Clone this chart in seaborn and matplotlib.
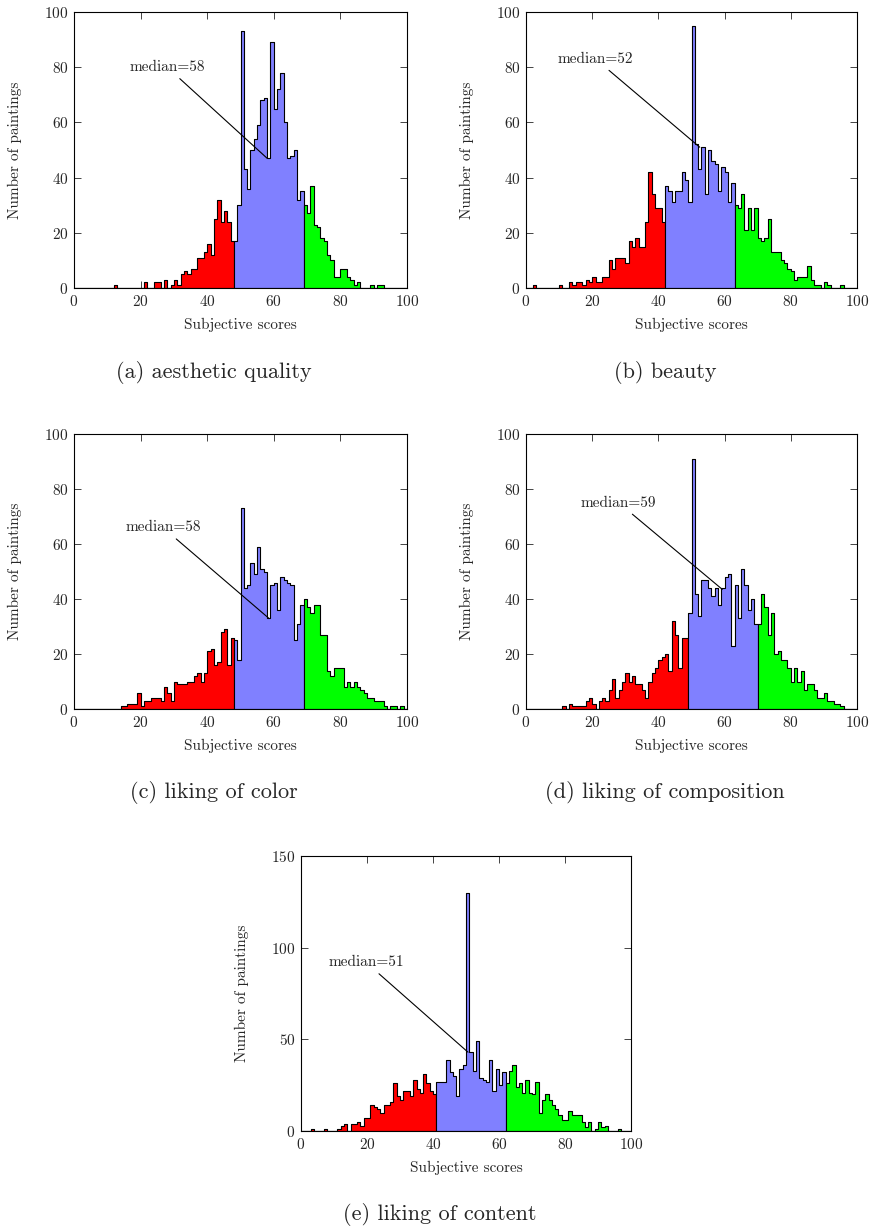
import numpy as np
import pandas as pd
import matplotlib
matplotlib.use("Agg")
import matplotlib.pyplot as plt
import seaborn as sns

# ------------------------------------------------
# counts per score bin (bins 0..99, width 1)
# ------------------------------------------------

aesthetic = ([0] * 12 + [1] + [0] * 8
             + [2, 0, 0, 2, 2, 0, 3, 0, 1, 3, 1, 5, 6, 5, 7, 7, 11, 11, 13, 16, 12, 25, 32, 24, 28, 24, 17]
             + [17, 30, 93, 43, 36, 50, 54, 59, 68, 69, 47, 89, 65, 72, 78, 60, 47, 48, 50, 32, 35]
             + [30, 27, 37, 23, 22, 18, 17, 12, 10, 4, 4, 7, 7, 4, 3, 1, 2, 0, 0, 0,
                1, 0, 1, 1, 0, 0, 0, 0, 0, 0, 0])

beauty = ([0, 0, 1, 0, 0, 0, 0, 0, 0, 0, 1, 0, 0, 2, 1, 2, 2, 1, 3, 2,
           4, 2, 2, 4, 4, 10, 7, 11, 11, 11, 9, 17, 15, 18, 15, 15, 24, 42, 34, 29, 29, 24]
          + [37, 35, 31, 35, 35, 42, 39, 31, 95, 52, 43, 51, 34, 50, 46, 45, 35, 44, 42, 31, 38]
          + [30, 29, 34, 21, 29, 21, 29, 18, 17, 18, 25, 13, 13, 13, 10, 9, 7, 6, 3, 4,
             4, 4, 8, 3, 1, 1, 0, 2, 1, 0, 0, 0, 1, 0, 0, 0, 0])

color = ([0] * 14
         + [1, 1, 2, 2, 2, 6, 1, 3, 3, 4, 4, 4, 3, 8, 6, 3, 10, 9, 9, 9,
            10, 10, 12, 13, 10, 13, 21, 22, 16, 17, 28, 29, 16, 26]
         + [25, 18, 73, 44, 45, 53, 49, 59, 51, 50, 33, 45, 46, 36, 48, 47, 46, 45, 25, 31, 38]
         + [40, 37, 35, 38, 38, 27, 27, 14, 12, 15, 15, 15, 8, 10, 8, 10, 8, 7, 6, 4,
            4, 3, 3, 3, 1, 0, 1, 1, 0, 1, 0])

composition = ([0] * 11
               + [1, 0, 2, 1, 1, 1, 1, 3, 4, 2, 0, 3, 4, 3, 7, 11, 4, 7, 10, 13,
                  10, 12, 9, 9, 7, 4, 10, 13, 15, 18, 19, 20, 14, 32, 27, 15, 26, 26]
               + [35, 91, 42, 34, 47, 47, 44, 41, 44, 38, 44, 48, 49, 23, 45, 33, 51, 45, 36, 40, 31]
               + [31, 42, 37, 27, 35, 20, 21, 18, 18, 15, 10, 15, 10, 14, 7, 9, 9, 7, 4, 4,
                  6, 3, 3, 2, 2, 1, 0, 0, 0, 0])

content = ([0, 0, 0, 1, 0, 0, 0, 1, 0, 0, 0, 1, 3, 4, 0, 4, 4, 5, 3, 7,
            7, 14, 13, 12, 10, 14, 14, 16, 26, 19, 17, 22, 22, 19, 28, 23, 21, 31, 26, 22, 20]
           + [27, 27, 27, 39, 32, 30, 19, 34, 36, 130, 43, 33, 49, 29, 28, 27, 39, 22, 34, 25, 32]
           + [26, 33, 36, 24, 26, 21, 28, 21, 20, 27, 10, 17, 20, 17, 14, 12, 9, 6, 6, 11,
              9, 9, 9, 5, 2, 5, 0, 1, 5, 2, 3, 0, 0, 0, 1, 0, 0, 0])

# where red ends / blue ends
splits = [(48, 69), (42, 63), (48, 69), (49, 70), (41, 62)]
medians = [58, 52, 58, 59, 51]
captions = ["(a) aesthetic quality", "(b) beauty", "(c) liking of color",
            "(d) liking of composition", "(e) liking of content"]

# ------------------------------------------------
# STYLE
# ------------------------------------------------

sns.set_style("ticks")
plt.rcParams['font.family'] = ['cmr10', 'DejaVu Serif']
plt.rcParams['axes.formatter.use_mathtext'] = True
plt.rcParams['mathtext.fontset'] = 'cm'

W, H = 874, 1229
fig = plt.figure(figsize=(W / 100, H / 100), dpi=100)

# axes boxes in pixels: left, top, right, bottom
boxes = [(74, 12, 407, 288), (526, 12, 857, 288),
         (74, 434, 407, 709), (526, 434, 857, 709),
         (301, 856, 631, 1131)]
text_pos = [(28, 80), (21, 83), (26.7, 66), (28, 75), (19.7, 92)]
tip_pos = [(58, 47), (52.5, 51), (58.5, 33), (59.3, 43.5), (50.6, 43)]
cap_pos = [(214, 372), (665, 372), (214, 793), (665, 793), (440, 1215)]

fills = ['#ff0000', '#8080ff', '#00ff00']
all_counts = [aesthetic, beauty, color, composition, content]

for i, counts in enumerate(all_counts):
    l, t, r, b = boxes[i]
    ax = fig.add_axes([l / W, 1 - b / H, (r - l) / W, (b - t) / H])

    df = pd.DataFrame({'score': np.arange(100) + 0.5, 'count': counts})
    lo, hi = splits[i]
    for (a0, a1), col in zip([(0, lo), (lo, hi), (hi, 100)], fills):
        part = df[(df['score'] > a0) & (df['score'] < a1)]
        sns.histplot(data=part, x='score', weights='count',
                     binwidth=1, binrange=(a0, a1), element='step', fill=True,
                     color=col, alpha=1, edgecolor='black', linewidth=0.8, ax=ax)

    ymax = 150 if i == 4 else 100
    ax.set_xlim(0, 100)
    ax.set_ylim(0, ymax)
    ax.set_xticks(range(0, 101, 20))
    ax.set_yticks(range(0, ymax + 1, 50 if i == 4 else 20))
    ax.tick_params(direction='in', top=True, right=True, length=5, width=0.6,
                   labelsize=11, pad=4)
    for s in ax.spines.values():
        s.set_linewidth(0.8)
        s.set_color('black')

    ax.set_xlabel("Subjective scores", fontsize=11)
    ax.set_ylabel("Number of paintings", fontsize=11)
    ax.xaxis.set_label_coords(0.5, -30 / (b - t))
    ax.yaxis.set_label_coords(-52 / (r - l), 0.5)

    ax.annotate(f"median={medians[i]}", xy=tip_pos[i], xytext=text_pos[i],
                ha='center', va='center', fontsize=11,
                bbox=dict(boxstyle='square,pad=0.3', fc='none', ec='none'),
                arrowprops=dict(arrowstyle='-', color='black', lw=0.8,
                                shrinkA=0, shrinkB=0))

    cx, cy = cap_pos[i]
    fig.text(cx / W, 1 - cy / H, captions[i], ha='center', va='center', fontsize=16)

fig.savefig("out.png", dpi=100)
